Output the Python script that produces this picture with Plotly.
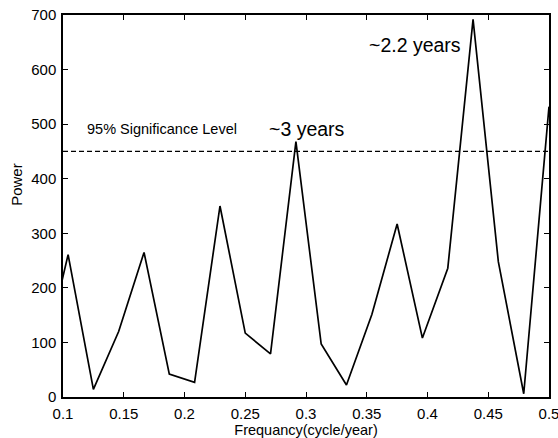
import plotly.graph_objects as go

freq = [0.0833, 0.1042, 0.125, 0.1458, 0.1667, 0.1875, 0.2083, 0.2292, 0.25, 0.2708,
        0.2917, 0.3125, 0.3333, 0.3542, 0.375, 0.3958, 0.4167, 0.4375, 0.4583, 0.4792, 0.5]
power = [60, 261, 14, 120, 265, 42, 27, 350, 117, 79,
         468, 97, 22, 151, 317, 108, 236, 692, 248, 6, 532]
sig_level = 450
x_ticks = [0.1, 0.15, 0.2, 0.25, 0.3, 0.35, 0.4, 0.45, 0.5]
x_tick_labels = ["0.1", "0.15", "0.2", "0.25", "0.3", "0.35", "0.4", "0.45", "0.5"]
y_ticks = [0, 100, 200, 300, 400, 500, 600, 700]

fig = go.Figure()
fig.add_trace(go.Scatter(x=freq, y=power, mode="lines",
                         line=dict(color="black", width=1.7), showlegend=False))
fig.add_trace(go.Scatter(x=[0.1, 0.5], y=[sig_level, sig_level], mode="lines",
                         line=dict(color="black", width=1.3, dash="5px,3px"), showlegend=False))

fig.add_annotation(x=0.1181, y=491, text="95% Significance Level", showarrow=False,
                   xanchor="left", yanchor="middle", font=dict(size=14.5, color="black"))
fig.add_annotation(x=0.2675, y=492, text="~3 years", showarrow=False,
                   xanchor="left", yanchor="middle", font=dict(size=19.5, color="black"))
fig.add_annotation(x=0.3505, y=645, text="~2.2 years", showarrow=False,
                   xanchor="left", yanchor="middle", font=dict(size=19.5, color="black"))
fig.add_annotation(xref="paper", yref="paper", x=-0.095, y=0.5576, text="Power",
                   textangle=-90, showarrow=False, xanchor="center", yanchor="middle",
                   font=dict(size=15, color="black"))

axis_common = dict(showgrid=False, zeroline=False, showline=True, linecolor="black",
                   linewidth=1.5, mirror="ticks", ticks="inside", ticklen=5,
                   tickcolor="black", tickwidth=1.2, automargin=False,
                   tickfont=dict(size=15, color="black"))
fig.update_xaxes(range=[0.1, 0.5], tickvals=x_ticks, ticktext=x_tick_labels,
                 ticklabeloverflow="allow", ticklabelstandoff=2,
                 title=dict(text="Frequancy(cycle/year)", font=dict(size=14.5, color="black"), standoff=5),
                 **axis_common)
fig.update_yaxes(range=[0, 700], tickvals=y_ticks, ticklabelstandoff=2,
                 **axis_common)

fig.update_layout(width=558, height=438, margin=dict(l=63, r=9, t=15, b=41),
                  plot_bgcolor="white", paper_bgcolor="white",
                  font=dict(family="Liberation Sans, Arial, sans-serif", color="black"))
fig.write_html("out.html")
